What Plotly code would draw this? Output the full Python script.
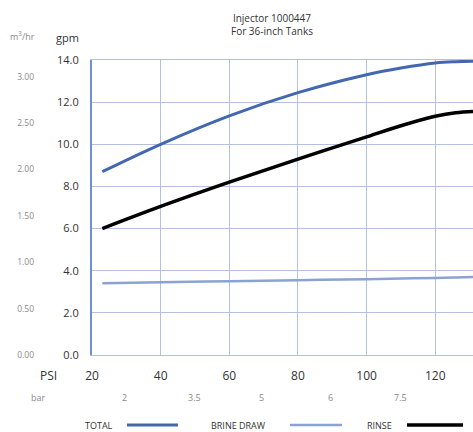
import plotly.graph_objects as go

# ---- data ----
psi = [23, 40, 60, 80, 100, 110, 120, 126, 131]
total_gpm = [8.7, 10.0, 11.35, 12.45, 13.3, 13.62, 13.86, 13.92, 13.94]
rinse_gpm = [6.0, 7.05, 8.2, 9.3, 10.35, 10.88, 11.33, 11.5, 11.56]
brine_gpm = [3.4, 3.45, 3.5, 3.55, 3.6, 3.63, 3.66, 3.68, 3.7]

psi_ticks = [20, 40, 60, 80, 100, 120]
gpm_ticks = [0, 2, 4, 6, 8, 10, 12, 14]
m3_ticks = [0.0, 0.5, 1.0, 1.5, 2.0, 2.5, 3.0]
bar_labels = ["2", "3.5", "5", "6", "7.5"]
bar_psi_pos = [29.5, 50, 69.5, 89.5, 110]
GPM_PER_M3H = 4.403

# ---- style ----
W, H = 473, 432
ML, MR, MT, MB = 92, 0, 60, 77
PW = W - ML - MR
PH = H - MT - MB
C_TOTAL = "#4468b0"
C_BRINE = "#8aa3d2"
C_RINSE = "#000000"
C_GRID = "#b3c0e0"
C_AXIS = "#6f8fcf"
FONT = "Open Sans"
TXT = "#333333"
GRAY = "#8a8a8a"


def px(x):
    return (x - ML) / PW


fig = go.Figure()
fig.add_trace(go.Scatter(x=psi, y=brine_gpm, mode="lines", name="BRINE DRAW",
                         line=dict(color=C_BRINE, width=2.5, shape="spline")))
fig.add_trace(go.Scatter(x=psi, y=total_gpm, mode="lines", name="TOTAL",
                         line=dict(color=C_TOTAL, width=3, shape="spline")))
fig.add_trace(go.Scatter(x=psi, y=rinse_gpm, mode="lines", name="RINSE",
                         line=dict(color=C_RINSE, width=3.5, shape="spline")))
# invisible trace to drive the m3/hr axis
fig.add_trace(go.Scatter(x=[psi[0]], y=[0], yaxis="y2", mode="markers",
                         marker=dict(opacity=0), showlegend=False, hoverinfo="skip"))

fig.update_layout(
    width=W, height=H, autosize=False,
    margin=dict(l=ML, r=MR, t=MT, b=MB, pad=0),
    paper_bgcolor="white", plot_bgcolor="white",
    showlegend=False,
    font=dict(family=FONT, size=11, color=TXT),
    xaxis=dict(range=[20, 131], tickvals=psi_ticks, showgrid=True,
               gridcolor=C_GRID, gridwidth=1, zeroline=False,
               showline=True, mirror=True, linecolor=C_GRID, linewidth=1,
               ticks="", ticklabelstandoff=10,
               tickfont=dict(family=FONT, size=12, color=TXT)),
    yaxis=dict(range=[0, 14], tickvals=gpm_ticks, tickformat=".1f",
               showgrid=True, gridcolor=C_GRID, gridwidth=1, zeroline=False,
               showline=True, linecolor=C_AXIS, linewidth=2,
               ticks="", ticklabelstandoff=9,
               tickfont=dict(family=FONT, size=11, color=TXT)),
    yaxis2=dict(range=[0, 14 / GPM_PER_M3H], overlaying="y", side="left",
                anchor="free", position=0, tickvals=m3_ticks,
                ticktext=[f"{v:.2f}" for v in m3_ticks],
                showgrid=False, zeroline=False, showline=False, ticks="",
                ticklabelstandoff=58,
                tickfont=dict(family=FONT, size=8.5, color=GRAY)),
)

ann = []


def label(text, x, y, yshift, size, color, xref="paper"):
    ann.append(dict(text=text, xref=xref, yref="paper", x=x, y=y, yshift=yshift,
                    xanchor="center", yanchor="middle", showarrow=False,
                    font=dict(family=FONT, size=size, color=color)))


ann.append(dict(text="Injector 1000447<br>For 36-inch Tanks", xref="paper", yref="paper",
                x=px(272), y=1, xanchor="center", yanchor="bottom", yshift=20,
                showarrow=False, font=dict(family=FONT, size=10, color=TXT)))
label("gpm", px(67), 1, 23, 11, TXT)
label("m<sup>3</sup>/hr", px(22), 1, 24, 9, GRAY)
label("PSI", px(48), 0, -20, 12, TXT)
label("bar", px(38), 0, -42, 9, GRAY)
for lab, pos in zip(bar_labels, bar_psi_pos):
    label(lab, pos, 0, -42, 9, GRAY, xref="x")

# manual legend (text left, line sample right)
legend_items = [("TOTAL", C_TOTAL, 3, 99, 127, 178),
                ("BRINE DRAW", C_BRINE, 2.5, 238, 290, 342),
                ("RINSE", C_RINSE, 3.5, 379, 407, 463)]
shapes = []
for name, col, w, tx, x0, x1 in legend_items:
    label(name, px(tx), 0, -70, 9, TXT)
    shapes.append(dict(type="line", xref="paper", yref="paper", x0=px(x0), x1=px(x1),
                       y0=-70 / PH, y1=-70 / PH,
                       line=dict(color=col, width=w)))

fig.update_layout(annotations=ann, shapes=shapes)
fig.write_html("out.html", post_script="document.body.style.margin='0';",
               config={"displayModeBar": False})
